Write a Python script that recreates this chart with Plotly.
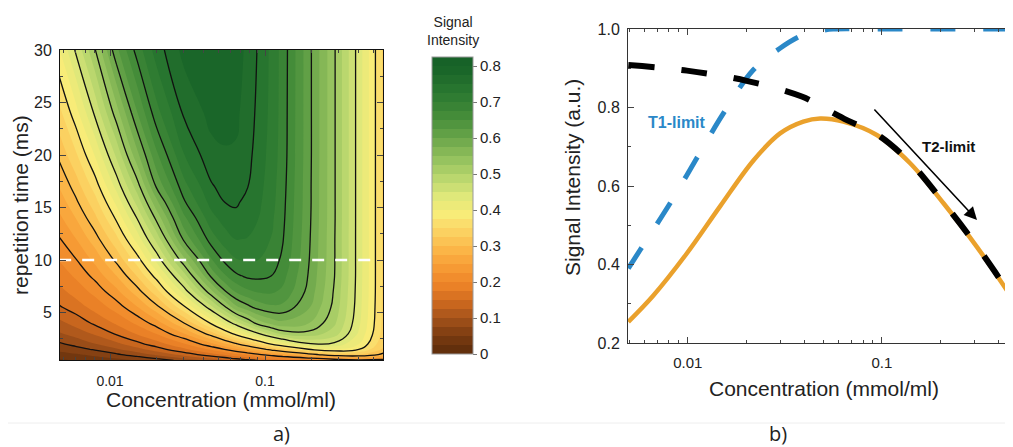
import numpy as np
import plotly.graph_objects as go

# ---------------- panel a) : signal map ----------------
CONC_GRID = [0.0047, 0.006, 0.008, 0.011, 0.015, 0.02, 0.03, 0.045, 0.055, 0.065, 0.077, 0.09,
             0.11, 0.13, 0.19, 0.28, 0.4, 0.58]
TR_GRID = [0.45, 1, 1.5, 2, 3, 4, 5.5, 7, 8.5, 10, 12, 14, 15.5, 17, 20, 24, 30]
SIGNAL_MAP = [
    [0.021, 0.026, 0.033, 0.041, 0.051, 0.062, 0.083, 0.108, 0.121, 0.134, 0.142, 0.150, 0.159, 0.167, 0.184, 0.203, 0.215, 0.213],
    [0.041, 0.047, 0.057, 0.071, 0.087, 0.106, 0.135, 0.165, 0.180, 0.193, 0.206, 0.220, 0.239, 0.255, 0.288, 0.320, 0.327, 0.293],
    [0.057, 0.066, 0.078, 0.097, 0.117, 0.139, 0.170, 0.205, 0.226, 0.246, 0.266, 0.284, 0.310, 0.332, 0.374, 0.400, 0.377, 0.320],
    [0.071, 0.082, 0.099, 0.118, 0.142, 0.163, 0.197, 0.243, 0.271, 0.295, 0.320, 0.343, 0.377, 0.400, 0.445, 0.444, 0.402, 0.331],
    [0.097, 0.111, 0.129, 0.154, 0.178, 0.202, 0.250, 0.314, 0.352, 0.386, 0.419, 0.447, 0.485, 0.509, 0.517, 0.488, 0.423, 0.340],
    [0.118, 0.134, 0.155, 0.179, 0.206, 0.238, 0.300, 0.380, 0.427, 0.464, 0.501, 0.536, 0.558, 0.568, 0.552, 0.505, 0.432, 0.343],
    [0.147, 0.162, 0.184, 0.211, 0.248, 0.292, 0.369, 0.467, 0.520, 0.568, 0.591, 0.609, 0.620, 0.618, 0.579, 0.517, 0.437, 0.344],
    [0.167, 0.185, 0.208, 0.243, 0.289, 0.340, 0.435, 0.543, 0.597, 0.628, 0.645, 0.653, 0.654, 0.645, 0.593, 0.522, 0.439, 0.345],
    [0.185, 0.204, 0.233, 0.275, 0.327, 0.387, 0.489, 0.606, 0.647, 0.670, 0.680, 0.681, 0.675, 0.659, 0.599, 0.526, 0.440, 0.345],
    [0.201, 0.223, 0.257, 0.306, 0.363, 0.432, 0.542, 0.647, 0.681, 0.698, 0.703, 0.700, 0.687, 0.670, 0.603, 0.527, 0.440, 0.345],
    [0.223, 0.249, 0.289, 0.343, 0.411, 0.484, 0.606, 0.688, 0.713, 0.726, 0.724, 0.715, 0.699, 0.677, 0.606, 0.527, 0.440, 0.345],
    [0.244, 0.275, 0.319, 0.380, 0.452, 0.533, 0.644, 0.716, 0.736, 0.744, 0.737, 0.726, 0.705, 0.681, 0.608, 0.528, 0.440, 0.345],
    [0.260, 0.294, 0.340, 0.406, 0.484, 0.568, 0.671, 0.734, 0.750, 0.753, 0.744, 0.731, 0.709, 0.683, 0.609, 0.528, 0.440, 0.345],
    [0.276, 0.311, 0.361, 0.433, 0.513, 0.604, 0.691, 0.747, 0.759, 0.760, 0.751, 0.735, 0.711, 0.685, 0.609, 0.528, 0.440, 0.345],
    [0.306, 0.345, 0.402, 0.480, 0.568, 0.645, 0.724, 0.767, 0.772, 0.772, 0.758, 0.740, 0.715, 0.688, 0.610, 0.528, 0.440, 0.345],
    [0.343, 0.389, 0.455, 0.538, 0.624, 0.691, 0.754, 0.783, 0.785, 0.780, 0.764, 0.744, 0.718, 0.689, 0.610, 0.528, 0.440, 0.345],
    [0.398, 0.453, 0.523, 0.618, 0.686, 0.737, 0.783, 0.798, 0.796, 0.787, 0.769, 0.748, 0.719, 0.690, 0.610, 0.528, 0.440, 0.345],
]
TR_CUT = 10
CUT_CONC = [0.0047, 0.49]
LINE_LEVELS = dict(start=0.075, end=0.75, size=0.075)
FILL_LEVELS = dict(start=0.0, end=0.825, size=0.025)
CBAR_TICKS = [0, 0.1, 0.2, 0.3, 0.4, 0.5, 0.6, 0.7, 0.8]
CBAR_LABELS = ["0", "0.1", "0.2", "0.3", "0.4", "0.5", "0.6", "0.7", "0.8"]
TR_TICKS = [5, 10, 15, 20, 25, 30]
CONC_TICKS = [0.01, 0.1]
CONC_LABELS = ["0.01", "0.1"]

# ---------------- panel b) : slice at TR = 10 ms ----------------
CONC_SIGNAL = [0.00494, 0.00665, 0.00988, 0.01467, 0.0218, 0.0299, 0.0394, 0.0481, 0.0634, 0.0942, 0.140, 0.208, 0.309, 0.469]
SIGNAL = [0.254, 0.321, 0.428, 0.548, 0.665, 0.734, 0.764, 0.772, 0.764, 0.730, 0.658, 0.556, 0.445, 0.315]
CONC_T2 = [0.00494, 0.0099, 0.0201, 0.0387, 0.052, 0.0661, 0.0942, 0.140, 0.208, 0.309, 0.469]
T2_LIMIT = [0.908, 0.894, 0.868, 0.828, 0.795, 0.768, 0.732, 0.660, 0.558, 0.447, 0.317]
CONC_T1 = [0.00494, 0.00568, 0.00811, 0.0111, 0.01526, 0.0218, 0.0299, 0.0394, 0.05, 0.056, 0.1, 0.2, 0.469]
T1_LIMIT = [0.390, 0.437, 0.556, 0.670, 0.785, 0.896, 0.951, 0.985, 0.997, 1.0, 1.0, 1.0, 1.0]
SI_TICKS = [0.2, 0.4, 0.6, 0.8, 1.0]
SI_LABELS = ["0.2", "0.4", "0.6", "0.8", "1.0"]

# page is offset by the default 8px body margin -> draw a slightly smaller figure
PAGE_OFF = 8
W, H = 1013 - PAGE_OFF, 447 - PAGE_OFF
FONT = "Liberation Sans, Arial, sans-serif"


def px_x(X):
    return (X - PAGE_OFF) / W


def px_y(Y):
    return (H - (Y - PAGE_OFF)) / H


colorscale = [
    [0.000, "#5a2b0b"], [0.061, "#793a10"], [0.121, "#a2511a"], [0.182, "#cf6a1f"],
    [0.242, "#ee8428"], [0.303, "#f79c35"], [0.364, "#fbb748"], [0.424, "#fbd262"],
    [0.485, "#f8ec78"], [0.545, "#e0e87a"], [0.606, "#bcd86f"], [0.667, "#99c560"],
    [0.727, "#77ae50"], [0.788, "#559840"], [0.848, "#3c8636"], [0.909, "#2a7830"],
    [1.000, "#176228"],
]

minor_conc = [m * 10.0 ** e for e in (-3, -2, -1) for m in range(2, 10)]

fig = go.Figure()

fig.add_trace(go.Contour(
    x=CONC_GRID, y=TR_GRID, z=SIGNAL_MAP, xaxis="x", yaxis="y",
    colorscale=colorscale, zmin=0, zmax=0.825, zauto=False,
    autocontour=False, contours=dict(coloring="fill", **FILL_LEVELS),
    line=dict(width=0, smoothing=1.3),
    colorbar=dict(
        x=px_x(432), xanchor="left", xpad=0, ypad=0,
        y=px_y(205.5), yanchor="middle", len=297 / H, lenmode="fraction",
        thickness=41, thicknessmode="pixels",
        tickvals=CBAR_TICKS, ticktext=CBAR_LABELS, ticks="outside", ticklen=4,
        tickcolor="#777", outlinewidth=1, outlinecolor="#999",
        tickfont=dict(family=FONT, size=15, color="#222"),
    ),
    hoverinfo="skip",
))
fig.add_trace(go.Contour(
    x=CONC_GRID, y=TR_GRID, z=SIGNAL_MAP, xaxis="x", yaxis="y",
    autocontour=False, contours=dict(coloring="none", **LINE_LEVELS),
    line=dict(color="#111", width=1.3, smoothing=1.3),
    showscale=False, hoverinfo="skip",
))
fig.add_trace(go.Scatter(
    x=CUT_CONC, y=[TR_CUT, TR_CUT], xaxis="x", yaxis="y", mode="lines",
    line=dict(color="white", width=2.5, dash="12px,11px"), showlegend=False,
))

fig.add_trace(go.Scatter(
    x=CONC_T1, y=T1_LIMIT, xaxis="x2", yaxis="y2", mode="lines",
    line=dict(color="#2a88c8", width=5, dash="25px,28px", shape="spline"), showlegend=False,
))
fig.add_trace(go.Scatter(
    x=CONC_SIGNAL, y=SIGNAL, xaxis="x2", yaxis="y2", mode="lines",
    line=dict(color="#eaa12c", width=4.5, shape="spline"), showlegend=False,
))
fig.add_trace(go.Scatter(
    x=CONC_T2, y=T2_LIMIT, xaxis="x2", yaxis="y2", mode="lines",
    line=dict(color="#000", width=6, dash="26px,27px", shape="spline"), showlegend=False,
))

axis_common = dict(showline=True, mirror="allticks", ticks="inside", ticklen=6,
                   showgrid=False, zeroline=False, automargin=False)

fig.update_layout(
    width=W, height=H, margin=dict(l=0, r=0, t=0, b=0, autoexpand=False),
    paper_bgcolor="white", plot_bgcolor="white",
    font=dict(family=FONT, color="#222"),
    showlegend=False,
    xaxis=dict(domain=[px_x(60), px_x(383)], type="log", range=[-2.3226, -0.2387],
               tickvals=CONC_TICKS, ticktext=CONC_LABELS, tickfont=dict(size=14),
               minor=dict(tickvals=minor_conc, ticks="inside", ticklen=3),
               linecolor="#111", anchor="y", ticklabelstandoff=8, **axis_common),
    yaxis=dict(domain=[px_y(360), px_y(50)], range=[0.48, 30],
               tickvals=TR_TICKS, tickfont=dict(size=16),
               minor=dict(dtick=2.5, tick0=0, ticks="inside", ticklen=3),
               linecolor="#111", anchor="x", ticklabelstandoff=4, **axis_common),
    xaxis2=dict(domain=[px_x(628), px_x(1012)], type="log", range=[-2.308, -0.329],
                tickvals=CONC_TICKS, ticktext=CONC_LABELS, tickfont=dict(size=15),
                minor=dict(tickvals=minor_conc, ticks="inside", ticklen=3),
                linecolor="#333", anchor="y2", ticklabelstandoff=6, **axis_common),
    yaxis2=dict(domain=[px_y(343), px_y(29)], range=[0.2, 1.0],
                tickvals=SI_TICKS, ticktext=SI_LABELS, tickfont=dict(size=16),
                minor=dict(dtick=0.1, tick0=0.0, ticks="inside", ticklen=3),
                linecolor="#333", anchor="x2", ticklabelstandoff=4, **axis_common),
)

ann = [
    dict(x=px_x(20), y=px_y(205), text="repetition time (ms)", textangle=-90, font=dict(size=21)),
    dict(x=px_x(221), y=px_y(399), text="Concentration (mmol/ml)", font=dict(size=21)),
    dict(x=px_x(573), y=px_y(178), text="Signal Intensity (a.u.)", textangle=-90, font=dict(size=21)),
    dict(x=px_x(824), y=px_y(388), text="Concentration (mmol/ml)", font=dict(size=21)),
    dict(x=px_x(453), y=px_y(31), text="Signal<br>Intensity", font=dict(size=14)),
    dict(x=px_x(677), y=px_y(123), text="<b>T1-limit</b>", font=dict(size=16, color="#2a88c8")),
    dict(x=px_x(948), y=px_y(146), text="<b>T2-limit</b>", font=dict(size=15, color="#111")),
    dict(x=px_x(281), y=px_y(433), text="a)", font=dict(size=20, family="Open Sans, sans-serif")),
    dict(x=px_x(778), y=px_y(433), text="b)", font=dict(size=20, family="Open Sans, sans-serif")),
]
for a in ann:
    fig.add_annotation(xref="paper", yref="paper", showarrow=False,
                       xanchor="center", yanchor="middle", **a)

fig.add_annotation(xref="paper", yref="paper", x=px_x(977), y=px_y(220), text="",
                   showarrow=True, ax=-104, ay=-112, axref="pixel", ayref="pixel",
                   arrowhead=2, arrowsize=1.6, arrowwidth=1.6, arrowcolor="#000")

fig.add_shape(type="line", xref="paper", yref="paper", x0=0, x1=1,
              y0=px_y(423), y1=px_y(423), line=dict(color="#eeeeee", width=1))

fig.write_html("out.html")
